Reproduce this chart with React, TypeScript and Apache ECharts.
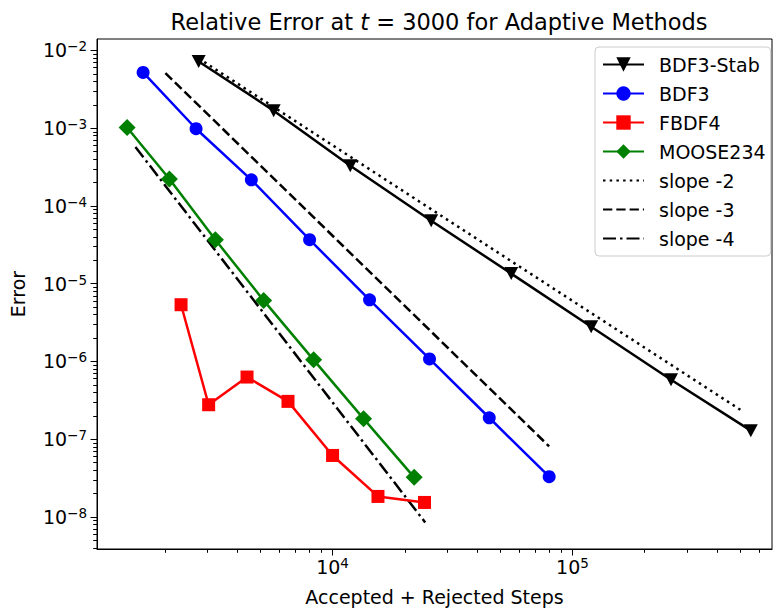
import React, { useEffect, useRef } from "react";
import * as echarts from "echarts";

const FONT = "DejaVu Sans";

// Data (steps, error)
const bdf3StabSteps = [2765, 5680, 11850, 25770, 55560, 119700, 257600, 554000];
const bdf3StabErr = [7.2e-3, 1.68e-3, 3.29e-4, 6.46e-5, 1.35e-5, 2.8e-6, 5.83e-7, 1.29e-7];

const bdf3Steps = [1622, 2697, 4585, 8020, 14260, 25360, 44990, 79960];
const bdf3Err = [5.21e-3, 9.84e-4, 2.17e-4, 3.68e-5, 6.22e-6, 1.08e-6, 1.89e-7, 3.3e-8];

const fbdf4Steps = [2335, 3043, 4399, 6518, 10000, 15460, 24170];
const fbdf4Err = [5.37e-6, 2.78e-7, 6.31e-7, 3.07e-7, 6.19e-8, 1.84e-8, 1.54e-8];

const moose234Steps = [1391, 2088, 3246, 5159, 8335, 13460, 21890];
const moose234Err = [1.02e-3, 2.22e-4, 3.68e-5, 6.1e-6, 1.05e-6, 1.84e-7, 3.24e-8];

const slope2Steps = [2765, 508000];
const slope2Err = [7.9e-3, 2.33e-7];
const slope3Steps = [2009, 79960];
const slope3Err = [5.11e-3, 8.1e-8];
const slope4Steps = [1507, 24330];
const slope4Err = [5.73e-4, 8.53e-9];

// Axis ranges and tick exponents
const xRange = [1042, 679000];
const yRange = [3.88e-9, 1.403e-2];
const xMajorExp = [4, 5];
const yMajorExp = [-8, -7, -6, -5, -4, -3, -2];

const lg = (v: number) => Math.log10(v);
const pts = (xs: number[], ys: number[]) => xs.map((x, i) => [lg(x), lg(ys[i])]);

function minorTicks(lo: number, hi: number): number[] {
  const out: number[] = [];
  for (let n = Math.floor(lo) - 1; n <= Math.ceil(hi); n++) {
    for (let k = 2; k <= 9; k++) {
      const v = lg(k) + n;
      if (v >= lo && v <= hi) out.push(v);
    }
  }
  return out;
}

export default function App() {
  const ref = useRef<HTMLDivElement>(null);
  useEffect(() => {
    const chart = echarts.init(ref.current!, null, { renderer: "svg" });
    const xmin = lg(xRange[0]);
    const xmax = lg(xRange[1]);
    const ymin = lg(yRange[0]);
    const ymax = lg(yRange[1]);
    const rich = {
      b: { fontFamily: FONT, fontSize: 19, color: "#000", lineHeight: 22 },
      s: { fontFamily: FONT, fontSize: 13.5, color: "#000", verticalAlign: "top", lineHeight: 13 },
    };
    const lw = 2.5;
    const hiddenSym = { opacity: 0 };
    const option: any = {
      animation: false,
      backgroundColor: "#fff",
      textStyle: { fontFamily: FONT },
      title: {
        text: "Relative Error at {i|t} = 3000 for Adaptive Methods",
        left: 434,
        textAlign: "center",
        top: 5,
        textStyle: {
          fontFamily: FONT,
          fontSize: 22.5,
          fontWeight: "normal",
          color: "#000",
          rich: {
            i: { fontFamily: FONT, fontSize: 22.5, fontStyle: "italic", color: "#000" },
          },
        },
      },
      grid: {
        left: 97,
        right: 3,
        top: 39,
        bottom: 67,
        show: true,
        borderColor: "#000",
        borderWidth: 1,
        backgroundColor: "transparent",
      },
      legend: {
        orient: "vertical",
        left: 595,
        top: 47,
        padding: [8, 5, 8, 7],
        itemWidth: 41,
        itemHeight: 18,
        itemGap: 10,
        backgroundColor: "#fff",
        borderColor: "#ccc",
        borderWidth: 1,
        borderRadius: 4,
        textStyle: { fontFamily: FONT, fontSize: 19, color: "#000", lineHeight: 19, padding: [0, 0, 0, 10] },
        data: [
          "BDF3-Stab",
          "BDF3",
          "FBDF4",
          "MOOSE234",
          { name: "slope -2", itemStyle: hiddenSym },
          { name: "slope -3", itemStyle: hiddenSym },
          { name: "slope -4", itemStyle: hiddenSym },
        ],
      },
      xAxis: [
        {
          type: "value",
          min: xmin,
          max: xmax,
          position: "bottom",
          name: "Accepted + Rejected Steps",
          nameLocation: "middle",
          nameGap: 38,
          nameTextStyle: { fontFamily: FONT, fontSize: 19, color: "#000" },
          axisLine: { show: true, lineStyle: { color: "#000", width: 1 } },
          splitLine: { show: false },
          axisTick: { show: true, length: 6.5, lineStyle: { color: "#000", width: 1 }, customValues: xMajorExp },
          axisLabel: {
            customValues: xMajorExp,
            margin: 7,
            formatter: (v: number) => `{b|10}{s|${Math.round(v)}}`,
            rich,
          },
        },
        {
          type: "value",
          min: xmin,
          max: xmax,
          position: "bottom",
          axisLine: { show: false },
          splitLine: { show: false },
          axisLabel: { show: false },
          axisTick: { show: true, length: 3.8, lineStyle: { color: "#000", width: 1 }, customValues: minorTicks(xmin, xmax) },
        },
      ],
      yAxis: [
        {
          type: "value",
          min: ymin,
          max: ymax,
          position: "left",
          name: "Error",
          nameLocation: "middle",
          nameGap: 70,
          nameTextStyle: { fontFamily: FONT, fontSize: 19, color: "#000" },
          axisLine: { show: true, lineStyle: { color: "#000", width: 1 } },
          splitLine: { show: false },
          axisTick: { show: true, length: 6.5, lineStyle: { color: "#000", width: 1 }, customValues: yMajorExp },
          axisLabel: {
            customValues: yMajorExp,
            margin: 10,
            formatter: (v: number) => `{b|10}{s|\u2212${Math.round(-v)}}`,
            rich,
          },
        },
        {
          type: "value",
          min: ymin,
          max: ymax,
          position: "left",
          axisLine: { show: false },
          splitLine: { show: false },
          axisLabel: { show: false },
          axisTick: { show: true, length: 3.8, lineStyle: { color: "#000", width: 1 }, customValues: minorTicks(ymin, ymax) },
        },
      ],
      series: [
        {
          name: "BDF3-Stab",
          type: "line",
          data: pts(bdf3StabSteps, bdf3StabErr),
          symbol: "triangle",
          symbolRotate: 180,
          symbolSize: [14, 13],
          color: "#000",
          lineStyle: { color: "#000", width: lw },
          itemStyle: { color: "#000" },
          z: 3,
        },
        {
          name: "BDF3",
          type: "line",
          data: pts(bdf3Steps, bdf3Err),
          symbol: "circle",
          symbolSize: 13,
          color: "#0000ff",
          lineStyle: { color: "#0000ff", width: lw },
          itemStyle: { color: "#0000ff" },
          z: 3,
        },
        {
          name: "FBDF4",
          type: "line",
          data: pts(fbdf4Steps, fbdf4Err),
          symbol: "rect",
          symbolSize: 13,
          color: "#ff0000",
          lineStyle: { color: "#ff0000", width: lw },
          itemStyle: { color: "#ff0000" },
          z: 3,
        },
        {
          name: "MOOSE234",
          type: "line",
          data: pts(moose234Steps, moose234Err),
          symbol: "diamond",
          symbolSize: 17,
          color: "#008000",
          lineStyle: { color: "#008000", width: lw },
          itemStyle: { color: "#008000" },
          z: 3,
        },
        {
          name: "slope -2",
          type: "line",
          data: pts(slope2Steps, slope2Err),
          symbol: "none",
          color: "#000",
          lineStyle: { color: "#000", width: lw, type: [2.5, 4.2] },
          itemStyle: hiddenSym,
          z: 2,
        },
        {
          name: "slope -3",
          type: "line",
          data: pts(slope3Steps, slope3Err),
          symbol: "none",
          color: "#000",
          lineStyle: { color: "#000", width: lw, type: [9.3, 4] },
          itemStyle: hiddenSym,
          z: 2,
        },
        {
          name: "slope -4",
          type: "line",
          data: pts(slope4Steps, slope4Err),
          symbol: "none",
          color: "#000",
          lineStyle: { color: "#000", width: lw, type: [13, 4, 2.5, 4] },
          itemStyle: hiddenSym,
          z: 2,
        },
      ],
    };
    chart.setOption(option);
    return () => chart.dispose();
  }, []);
  return <div ref={ref} style={{ position: "absolute", left: 0, top: 0, width: 775, height: 616 }} />;
}
